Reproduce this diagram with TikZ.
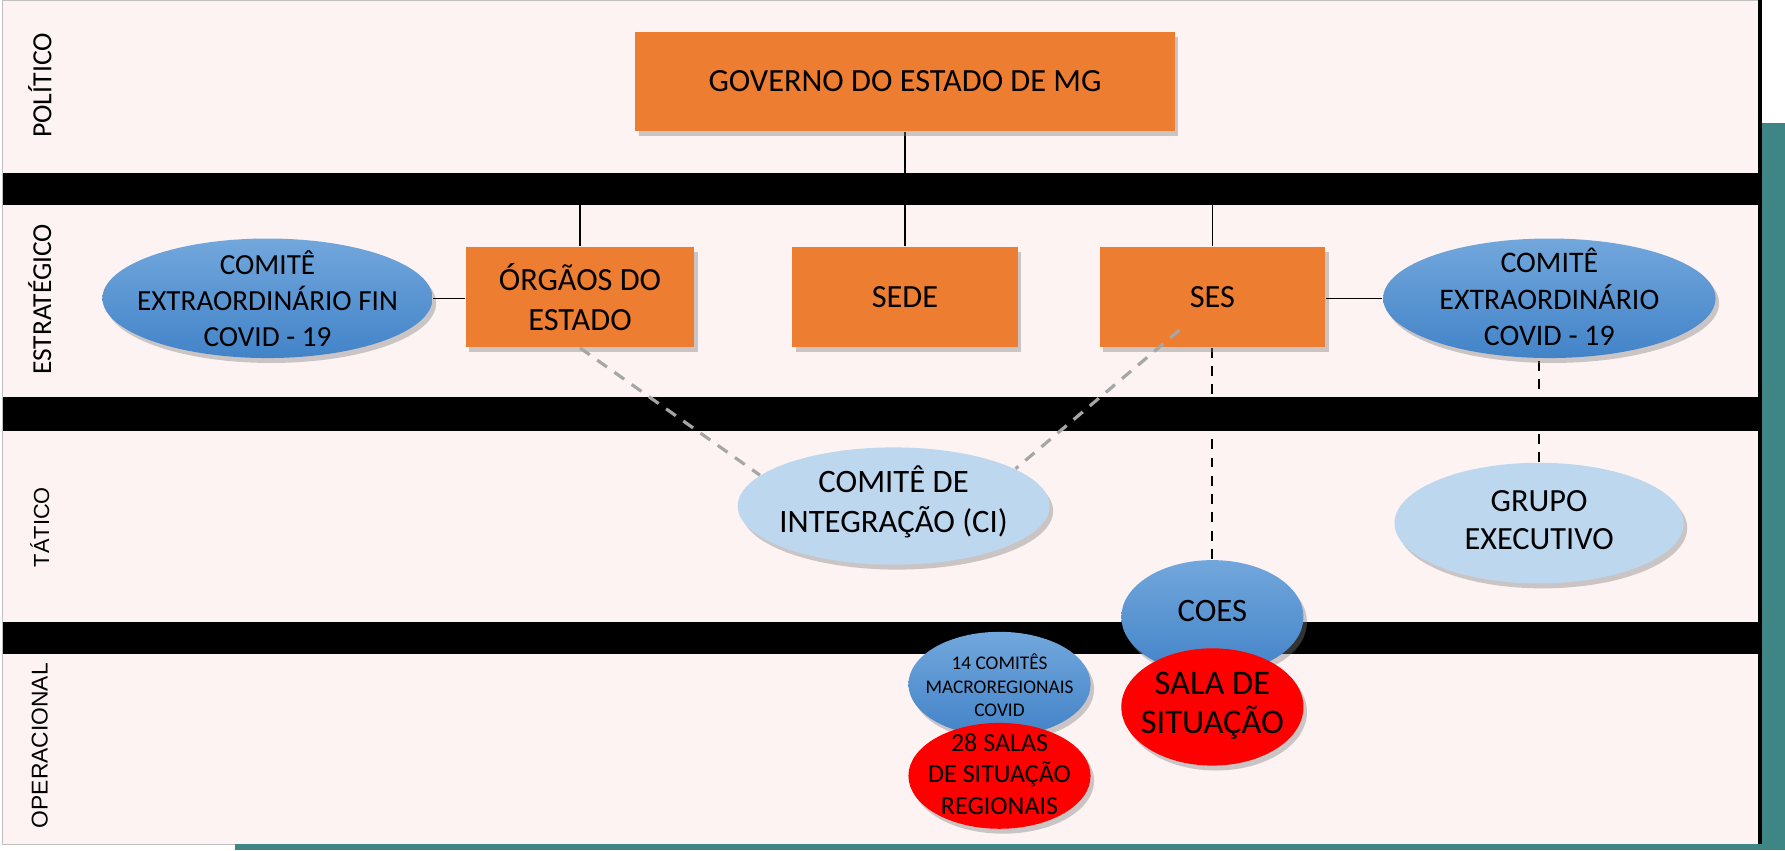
\documentclass[tikz,border=0pt]{standalone}
\usepackage{fontspec}
\setmainfont{Carlito}
\newfontfamily\arialf{Liberation Sans}
\usetikzlibrary{shadows,calc,shapes.geometric}
\newlength\ux \setlength\ux{0.011384cm}
\definecolor{lanebg}{HTML}{FCF3F2}
\definecolor{orangebox}{HTML}{ED7D31}
\definecolor{lightblue}{HTML}{BDD7EE}
\definecolor{bluetop}{HTML}{72A7DC}
\definecolor{bluebot}{HTML}{4283C8}
\definecolor{tealc}{HTML}{3E8686}
\definecolor{dashgray}{HTML}{A6A6A6}
\pgfdeclarelayer{bg}\pgfdeclarelayer{links}\pgfdeclarelayer{bands}\pgfdeclarelayer{fg}
\pgfsetlayers{bg,links,bands,main,fg}
\tikzset{
  shad/.style={drop shadow={shadow xshift=1.0pt,shadow yshift=-1.4pt,opacity=0.4}},
  orgbox/.style={rectangle, fill=orangebox, inner sep=0pt, align=center, shad,
    font=\fontsize{9.2}{11.2}\selectfont},
  ell/.style={ellipse, inner sep=0pt, shad},
  blueell/.style={ell, top color=bluetop, bottom color=bluebot},
  lightell/.style={ell, fill=lightblue},
  redell/.style={ell, fill=red},
  txt/.style={inner sep=0pt, align=center},
  conn/.style={draw=black, line width=0.4pt},
  blackdash/.style={draw=black, line width=0.6pt, dash pattern=on 2.8pt off 2.4pt},
  graydash/.style={draw=dashgray, line width=0.9pt, dash pattern=on 3.4pt off 2.6pt},
  lanelabel/.style={rotate=90, inner sep=0pt},
  band/.style={fill=black, draw=none}
}
\begin{document}
\begin{tikzpicture}[x=0.011384cm, y=-0.011384cm]
\useasboundingbox (0,0) rectangle (1568,747);
% background
\begin{pgfonlayer}{bg}
\fill[white] (0,0) rectangle (1568,747);
\fill[lanebg] (2.5,0) rectangle (1545,741.5);
\draw[black!25, line width=0.3pt] (2.5,0) rectangle (1545,741.5);
\fill[black] (1544.5,0) rectangle (1547.5,741.5);
\fill[tealc] (1547.5,108) rectangle (1568,747);
\fill[tealc] (206,741.5) rectangle (1568,747);
\end{pgfonlayer}
\begin{pgfonlayer}{bands}
\fill[band] (2.5,152) rectangle (1545,180.5);
\fill[band] (2.5,349) rectangle (1545,379);
\fill[band] (2.5,546) rectangle (1545,574.5);
\end{pgfonlayer}
% lane labels
\node[lanelabel, font=\fontsize{7.9}{9}\selectfont] (lpol) at (35,75) {POLÍTICO};
\node[lanelabel, font=\fontsize{7.8}{9}\selectfont] (lest) at (35,263) {ESTRATÉGICO};
\node[lanelabel, font=\arialf\fontsize{6.2}{7}\selectfont] (ltat) at (35,463) {TÁTICO};
\node[lanelabel, font=\arialf\fontsize{6.5}{7}\selectfont] (lope) at (35,655) {OPERACIONAL};
% boxes
\node[orgbox, minimum width=474\ux, minimum height=87\ux] (gov) at (795,71.5) {GOVERNO DO ESTADO DE MG};
\node[orgbox, minimum width=201\ux, minimum height=88\ux] (org) at (509.5,261) {ÓRGÃOS DO\\ESTADO};
\node[orgbox, minimum width=198\ux, minimum height=88\ux] (sede) at (795,261) {SEDE};
\node[orgbox, minimum width=198\ux, minimum height=88\ux] (ses) at (1065,261) {SES};
% ellipses
\node[blueell, minimum width=290\ux, minimum height=105\ux] (fin) at (235,262) {};
\node[txt, font=\fontsize{8.3}{10.2}\selectfont] (fint) at (235,262.5) {COMITÊ\\EXTRAORDINÁRIO FIN\\COVID - 19};
\node[blueell, minimum width=292\ux, minimum height=105\ux] (covid) at (1361,262) {};
\node[txt, font=\fontsize{8.5}{10.4}\selectfont] (covidt) at (1361,261) {COMITÊ\\EXTRAORDINÁRIO\\COVID - 19};
\node[lightell, minimum width=274\ux, minimum height=103\ux] (ci) at (785,444.5) {};
\node[txt, font=\fontsize{9.3}{11.3}\selectfont] (cit) at (785,441) {COMITÊ DE\\INTEGRAÇÃO (CI)};
\node[lightell, minimum width=254\ux, minimum height=106\ux] (grupo) at (1352,459.5) {};
\node[txt, font=\fontsize{9.2}{10.8}\selectfont] (grupot) at (1352,457) {GRUPO\\EXECUTIVO};
\node[blueell, minimum width=160\ux, minimum height=100\ux] (coes) at (1065,542) {};
\node[txt, font=\fontsize{9.3}{11}\selectfont] (coest) at (1065,537) {COES};
\node[redell, minimum width=160\ux, minimum height=103\ux] (sala) at (1065,621) {};
\node[txt, font=\fontsize{9.8}{11}\selectfont] (salat) at (1065,620) {SALA DE\\SITUAÇÃO};
\node[blueell, minimum width=160\ux, minimum height=92\ux] (com14) at (878,601) {};
\node[txt, font=\fontsize{5.5}{6.6}\selectfont] (com14t) at (878,602) {14 COMITÊS\\MACROREGIONAIS\\COVID};
\node[redell, minimum width=160\ux, minimum height=93\ux] (sal28) at (878,681.5) {};
\node[txt, font=\fontsize{7.4}{9}\selectfont] (sal28t) at (878,680) {28 SALAS\\DE SITUAÇÃO\\REGIONAIS};
% connectors
\coordinate (hub) at (795,166);
\begin{pgfonlayer}{links}
\draw[conn] (gov.south) -- (hub) -| (org.north);
\draw[conn] (hub) -| (ses.north);
\draw[conn] (hub) -- (sede.north);
\draw[blackdash] (ses.south) -- (coes.north);
\draw[blackdash] (grupo.north) -- (grupo.north |- covid.south);
\end{pgfonlayer}
\draw[conn] (fin.east) -- (fin.east -| org.west);
\draw[conn] (ses.east |- covid.west) -- (covid.west);
\begin{pgfonlayer}{fg}
\draw[graydash] (org.south) -- (ci.167);
\draw[graydash] ([shift={(-29,29)}]ses.center) -- (ci.17);
\end{pgfonlayer}
\end{tikzpicture}
\end{document}
